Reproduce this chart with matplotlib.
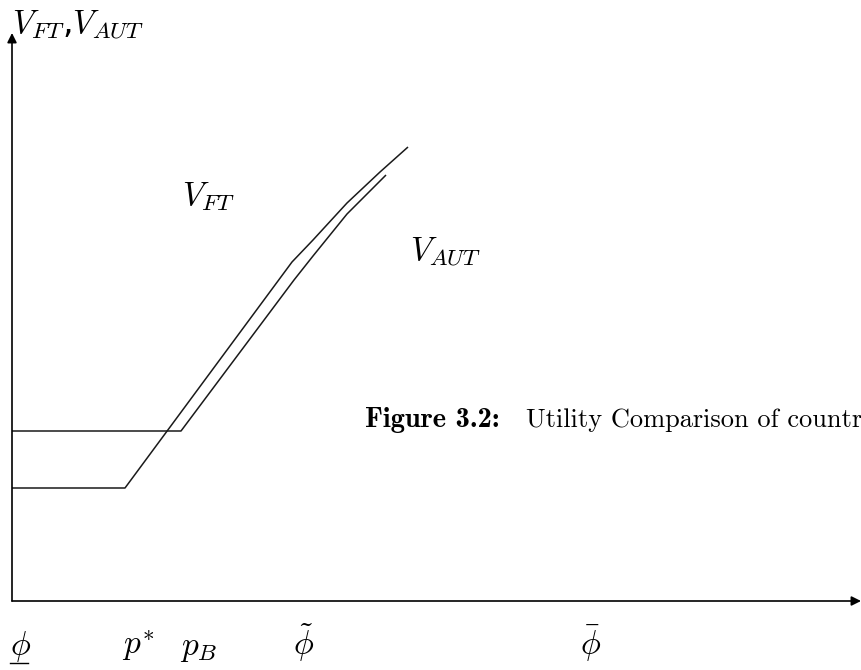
import matplotlib
matplotlib.use("Agg")
import matplotlib.pyplot as plt

plt.rcParams['mathtext.fontset'] = 'cm'

# Curve values (horizontal distance / height from origin)
ft_x = [0, 113, 280, 301, 335, 368, 396]
ft_y = [113, 113, 339, 361, 398, 429, 454]
aut_x = [0, 169, 282, 301, 335, 374]
aut_y = [170, 170, 321, 345, 387, 426]

tick_pos = [-2, 110, 168, 281, 568]
tick_labels = [r'$\phi$', r'$p^{*}$', r'$p_{B}$', r'$\tilde{\phi}$', r'$\bar{\phi}$']

fig = plt.figure(figsize=(8.61, 6.70), dpi=100)
ax = fig.add_axes([0, 0, 1, 1])
ax.set_xlim(-12, 849)
ax.set_ylim(-69, 601)
ax.axis('off')

# axes with arrows
ax.annotate('', xy=(849, 0), xytext=(0, 0),
            arrowprops=dict(arrowstyle='-|>', color='black', lw=1.2,
                            mutation_scale=14, shrinkA=0, shrinkB=0))
ax.annotate('', xy=(0, 568), xytext=(0, 0),
            arrowprops=dict(arrowstyle='-|>', color='black', lw=1.2,
                            mutation_scale=14, shrinkA=0, shrinkB=0))

ax.plot(ft_x, ft_y, color='#1a1a1a', lw=1.1, solid_capstyle='butt',
        solid_joinstyle='round')
ax.plot(aut_x, aut_y, color='#1a1a1a', lw=1.1, solid_capstyle='butt',
        solid_joinstyle='round')

ax.text(0, 568, r'$V_{FT}$,$V_{AUT}$', fontsize=24, ha='left', va='baseline')
ax.text(170, 396, r'$V_{FT}$', fontsize=24, ha='left', va='baseline')
ax.text(398, 341, r'$V_{AUT}$', fontsize=24, ha='left', va='baseline')

for xp, lab in zip(tick_pos, tick_labels):
    ax.text(xp, -54, lab, fontsize=24, ha='left', va='baseline')
# underline of first phi
ax.plot([-2, 16], [-62, -62], color='black', lw=1.0)

ax.text(353, 174, 'Figure 3.2:', fontfamily='cmb10', fontsize=20.5,
        ha='left', va='baseline')
ax.text(514, 174, 'Utility Comparison of country', fontfamily='cmr10',
        fontsize=19, ha='left', va='baseline')

fig.savefig('out.png', dpi=100)
